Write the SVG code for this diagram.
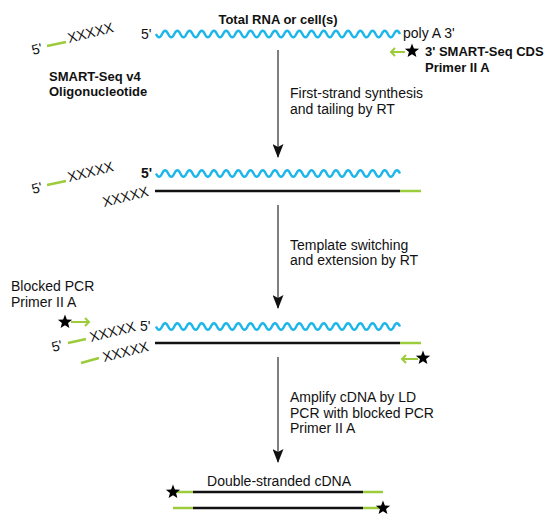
<svg xmlns="http://www.w3.org/2000/svg" xmlns:xlink="http://www.w3.org/1999/xlink" width="550" height="521" viewBox="0 0 550 521">
<style>
text{font-family:"Liberation Sans",Arial,sans-serif;fill:#111;}
.b{font-weight:bold;font-size:13px;}
.r{font-size:14px;}
.x{font-size:14px;}
.wave{fill:none;stroke:#1cb6ea;stroke-width:2.4;}
.blk{stroke:#111;stroke-width:2.5;fill:none;}
.grn{stroke:#9ccb3b;stroke-width:2.5;fill:none;}
.garr{stroke:#9ccb3b;stroke-width:2;fill:none;}
.conn{stroke:#555;stroke-width:1.5;fill:none;marker-end:url(#ah);}
</style>
<defs>
<marker id="ah" markerUnits="userSpaceOnUse" markerWidth="14" markerHeight="11" refX="13" refY="5.5" orient="auto">
<path d="M0,0 L14,5.5 L0,11 L3,5.5 Z" fill="#111"/>
</marker>
<path id="wv" class="wave" d="M0,0 q3.05,6.5 6.1,0 t6.1,0 t6.1,0 t6.1,0 t6.1,0 t6.1,0 t6.1,0 t6.1,0 t6.1,0 t6.1,0 t6.1,0 t6.1,0 t6.1,0 t6.1,0 t6.1,0 t6.1,0 t6.1,0 t6.1,0 t6.1,0 t6.1,0 t6.1,0 t6.1,0 t6.1,0 t6.1,0 t6.1,0 t6.1,0 t6.1,0 t6.1,0 t6.1,0 t6.1,0 t6.1,0 t6.1,0 t6.1,0 t6.1,0 t6.1,0 t6.1,0 t6.1,0 t6.1,0 t6.1,0 t6.1,0"/>
<path id="star" fill="#000" d="M0,-7.5 L1.88,-2.59 L7.13,-2.32 L3.04,0.99 L4.41,6.07 L0,3.2 L-4.41,6.07 L-3.04,0.99 L-7.13,-2.32 L-1.88,-2.59 Z"/>
</defs>

<g id="connectors">
<line class="conn" x1="278" y1="50" x2="278" y2="157"/>
<line class="conn" x1="278" y1="205" x2="278" y2="308"/>
<line class="conn" x1="278" y1="357" x2="278" y2="462"/>
</g>

<g id="oligo1">
<text class="r" transform="translate(33,55) rotate(-14)">5'</text>
<line class="grn" x1="47" y1="46" x2="66" y2="42"/>
<text class="x" transform="translate(69,43) rotate(-14)">XXXXX</text>
<text class="b" x="49" y="81">SMART-Seq v4</text>
<text class="b" x="49" y="96">Oligonucleotide</text>
</g>

<g id="rna1">
<text class="b" x="278" y="24" text-anchor="middle">Total RNA or cell(s)</text>
<text class="r" x="141" y="39">5'</text>
<use xlink:href="#wv" transform="translate(156,34)"/>
<text class="r" x="403" y="38">poly A 3'</text>
</g>

<g id="cds1">
<path class="garr" d="M405,52 H391 M395,48 L391,52 L395,56"/>
<use xlink:href="#star" transform="translate(412,51)"/>
<text class="b" x="425" y="56">3' SMART-Seq CDS</text>
<text class="b" x="425" y="72">Primer II A</text>
</g>

<g id="step1-label">
<text class="r" x="290" y="98">First-strand synthesis</text>
<text class="r" x="290" y="114">and tailing by RT</text>
</g>

<g id="oligo2">
<text class="r" transform="translate(33,194) rotate(-14)">5'</text>
<line class="grn" x1="47" y1="185" x2="66" y2="181"/>
<text class="x" transform="translate(69,182) rotate(-14)">XXXXX</text>
</g>

<g id="hybrid2">
<text class="r" x="141" y="178" font-weight="bold">5'</text>
<use xlink:href="#wv" transform="translate(156,173.5)"/>
<text class="x" transform="translate(104,207) rotate(-14)">XXXXX</text>
<line class="blk" x1="155" y1="191" x2="400" y2="191"/>
<line class="grn" x1="400" y1="191" x2="421" y2="191"/>
</g>

<g id="step2-label">
<text class="r" x="290" y="250">Template switching</text>
<text class="r" x="290" y="265">and extension by RT</text>
</g>

<g id="blocked-primer">
<text class="r" x="11" y="291">Blocked PCR</text>
<text class="r" x="11" y="307">Primer II A</text>
<use xlink:href="#star" transform="translate(65,322)"/>
<path class="garr" d="M71,322 H89 M85,318 L89,322 L85,326"/>
</g>

<g id="hybrid3">
<text class="r" transform="translate(53,352) rotate(-14)">5'</text>
<line class="grn" x1="68" y1="343" x2="86" y2="339"/>
<text class="x" transform="translate(91,342) rotate(-14)">XXXXX</text>
<text class="r" x="140" y="331">5'</text>
<use xlink:href="#wv" transform="translate(156,326.5)"/>
<line class="grn" x1="81" y1="363" x2="99" y2="358"/>
<text class="x" transform="translate(104,362) rotate(-14)">XXXXX</text>
<line class="blk" x1="155" y1="343" x2="400" y2="343"/>
<line class="grn" x1="400" y1="343" x2="421" y2="343"/>
<path class="garr" d="M418,359 H402 M406,355 L402,359 L406,363"/>
<use xlink:href="#star" transform="translate(423,358)"/>
</g>

<g id="step3-label">
<text class="r" x="290" y="402">Amplify cDNA by LD</text>
<text class="r" x="290" y="418">PCR with blocked PCR</text>
<text class="r" x="290" y="433">Primer II A</text>
</g>

<g id="dscdna">
<text class="r" x="279" y="486" text-anchor="middle">Double-stranded cDNA</text>
<line class="grn" x1="176" y1="492" x2="193" y2="492"/>
<line class="blk" x1="193" y1="492" x2="363" y2="492"/>
<line class="grn" x1="363" y1="492" x2="383" y2="492"/>
<use xlink:href="#star" transform="translate(173,492)"/>
<line class="grn" x1="173" y1="508" x2="193" y2="508"/>
<line class="blk" x1="193" y1="508" x2="363" y2="508"/>
<line class="grn" x1="363" y1="508" x2="380" y2="508"/>
<use xlink:href="#star" transform="translate(383,508)"/>
</g>
</svg>
